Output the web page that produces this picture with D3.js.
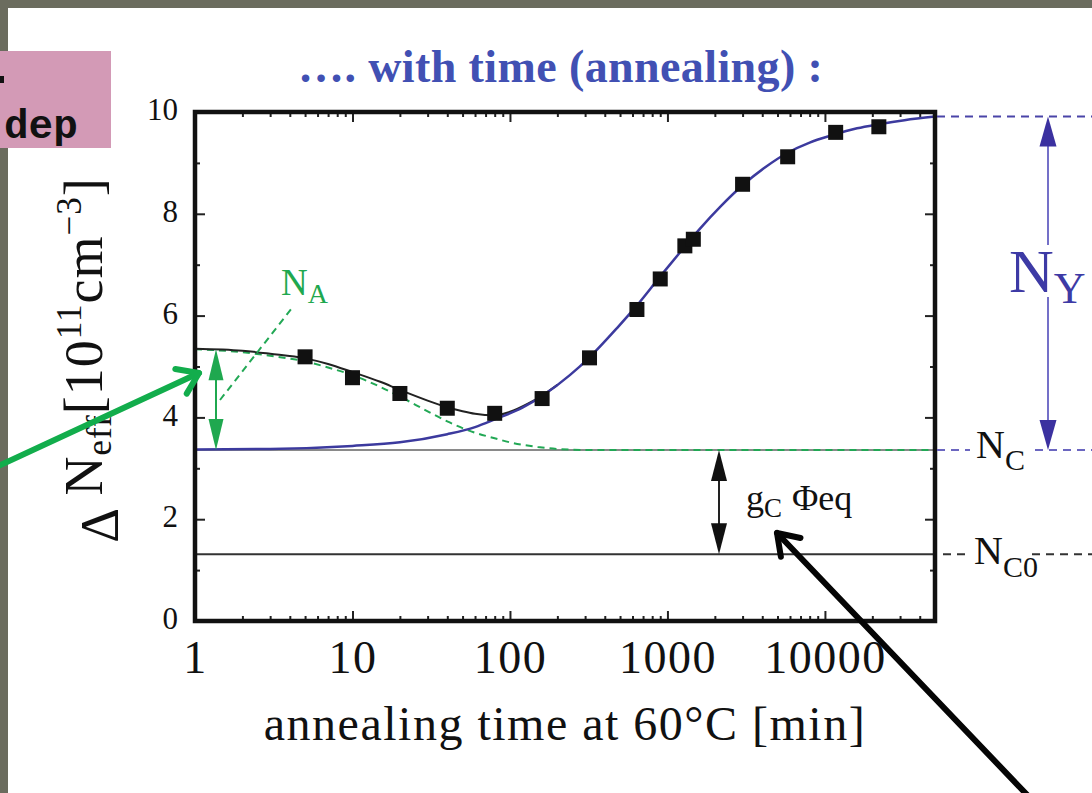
<!DOCTYPE html>
<html>
<head>
<meta charset="utf-8">
<script src="https://cdn.jsdelivr.net/npm/d3@7"></script>
<style>
  body { margin: 0; background: #fff; }
  svg { display: block; }
  .tick line { stroke: #222; stroke-width: 2; }
  .tick text { font-family: "Liberation Serif", "Times New Roman", serif; fill: #111; }
</style>
</head>
<body>
<div id="chart"></div>
<script>
// measured data points (annealing time in min, delta Neff in 1e11 cm^-3)
const pointTimes = [5, 10, 20, 40, 80, 160, 320, 640, 900, 1290, 1460, 3000, 5800, 11700, 22000]
const pointValues = [5.19, 4.78, 4.47, 4.18, 4.08, 4.37, 5.17, 6.12, 6.72, 7.37, 7.50, 8.58, 9.12, 9.60, 9.71]

// fitted curves
const blueTimes = [1, 3, 10, 20, 40, 60, 80, 120, 160, 240, 320, 480, 640, 900, 1200, 1600, 2200, 3000, 4200, 5800, 8000, 11000, 16000, 22000, 32000, 50000]
const blueValues = [3.37, 3.38, 3.44, 3.51, 3.67, 3.81, 3.96, 4.19, 4.42, 4.83, 5.18, 5.76, 6.2, 6.77, 7.24, 7.7, 8.16, 8.56, 8.92, 9.2, 9.4, 9.54, 9.68, 9.76, 9.84, 9.91]

const greenTimes = [1, 2, 3, 5, 7, 10, 15, 20, 30, 40, 60, 80, 100, 150, 200, 300, 50000]
const greenValues = [5.34, 5.28, 5.21, 5.10, 4.98, 4.83, 4.60, 4.41, 4.12, 3.92, 3.70, 3.59, 3.51, 3.42, 3.38, 3.36, 3.36]

const blackTimes = [1, 2, 3, 5, 7, 10, 15, 20, 30, 40, 50, 60, 80, 100, 130, 160, 200]
const blackValues = [5.35, 5.31, 5.25, 5.16, 5.05, 4.89, 4.70, 4.54, 4.33, 4.20, 4.12, 4.07, 4.04, 4.11, 4.27, 4.43, 4.64]

const nC = 3.36
const nC0 = 1.31
const nYTop = 9.91
const nAStart = 5.34

const xMajor = [1, 10, 100, 1000, 10000]
const yMajor = [0, 2, 4, 6, 8, 10]
const yMinor = [1, 3, 5, 7, 9]

const W = 1092, H = 793
const serif = '"Liberation Serif", "Times New Roman", serif'

var svg = d3.select("#chart").append("svg")
    .attr("width", W)
    .attr("height", H)

var x = d3.scaleLog().domain([1, 50000]).range([195, 935])
var y = d3.scaleLinear().domain([0, 10]).range([621, 112])

var xMinor = []
for (var p = 0; p < 5; p++) {
  for (var m = 2; m <= 9; m++) {
    var v = m * Math.pow(10, p)
    if (v < 50000) xMinor.push(v)
  }
}

// background frame of the slide
svg.append("rect").attr("x", 0).attr("y", 0).attr("width", W).attr("height", 8).attr("fill", "#6b6c5e")
svg.append("rect").attr("x", 0).attr("y", 0).attr("width", 8).attr("height", H).attr("fill", "#6b6c5e")
svg.append("rect").attr("x", 0).attr("y", 51).attr("width", 111).attr("height", 97).attr("fill", "#d39ab6")
svg.append("rect").attr("x", 0).attr("y", 76).attr("width", 4).attr("height", 7).attr("fill", "#111")
svg.append("text")
    .attr("x", 4).attr("y", 138)
    .attr("font-family", '"Courier New", "Liberation Mono", monospace')
    .attr("font-size", "41px")
    .attr("font-weight", "bold")
    .attr("fill", "#111")
    .text("dep")

// title
svg.append("text")
    .attr("x", 298).attr("y", 82)
    .attr("font-family", serif)
    .attr("font-size", "46px")
    .attr("font-weight", "bold")
    .attr("letter-spacing", "0.4px")
    .attr("fill", "#4150b3")
    .text("…. with time (annealing) :")

// axes (ticks point inward)
function noDomain(g) { g.select(".domain").remove() }

svg.append("g").attr("transform", "translate(0,621)")
    .call(d3.axisBottom(x).tickValues(xMajor).tickSize(-10).tickPadding(19).tickFormat(d3.format("d")))
    .call(noDomain)
    .selectAll("text").attr("font-size", "46px").attr("letter-spacing", "1.5px")
svg.append("g").attr("transform", "translate(0,621)")
    .call(d3.axisBottom(x).tickValues(xMinor).tickSize(-5).tickFormat(""))
    .call(noDomain)
svg.append("g").attr("transform", "translate(0,112)")
    .call(d3.axisTop(x).tickValues(xMajor).tickSize(-10).tickFormat(""))
    .call(noDomain)
svg.append("g").attr("transform", "translate(0,112)")
    .call(d3.axisTop(x).tickValues(xMinor).tickSize(-5).tickFormat(""))
    .call(noDomain)

svg.append("g").attr("transform", "translate(195,0)")
    .call(d3.axisLeft(y).tickValues(yMajor).tickSize(-10).tickPadding(17))
    .call(noDomain)
    .selectAll("text").attr("font-size", "31px").attr("dy", "0.25em")
svg.append("g").attr("transform", "translate(195,0)")
    .call(d3.axisLeft(y).tickValues(yMinor).tickSize(-5).tickFormat(""))
    .call(noDomain)
svg.append("g").attr("transform", "translate(935,0)")
    .call(d3.axisRight(y).tickValues(yMajor).tickSize(-10).tickFormat(""))
    .call(noDomain)
svg.append("g").attr("transform", "translate(935,0)")
    .call(d3.axisRight(y).tickValues(yMinor).tickSize(-5).tickFormat(""))
    .call(noDomain)

// horizontal levels N_C and N_C0
svg.append("line")
    .attr("x1", x(1)).attr("x2", x(50000))
    .attr("y1", y(nC)).attr("y2", y(nC))
    .attr("stroke", "#8a8a8a").attr("stroke-width", 2)
svg.append("line")
    .attr("x1", x(1)).attr("x2", x(50000))
    .attr("y1", y(nC0)).attr("y2", y(nC0))
    .attr("stroke", "#333").attr("stroke-width", 2)

var line = d3.line()
    .x(d => x(d[0]))
    .y(d => y(d[1]))
    .curve(d3.curveMonotoneX)

svg.append("path")
    .attr("d", line(greenTimes.map((t, i) => [t, greenValues[i]])))
    .attr("fill", "none").attr("stroke", "#22a855").attr("stroke-width", 2)
    .attr("stroke-dasharray", "7,5")

svg.append("path")
    .attr("d", line(blackTimes.map((t, i) => [t, blackValues[i]])))
    .attr("fill", "none").attr("stroke", "#222").attr("stroke-width", 2)

svg.append("path")
    .attr("d", line(blueTimes.map((t, i) => [t, blueValues[i]])))
    .attr("fill", "none").attr("stroke", "#3c3a9e").attr("stroke-width", 2.5)

svg.append("g").selectAll("rect")
  .data(pointTimes.map((t, i) => ({t: t, v: pointValues[i]})))
  .enter().append("rect")
    .attr("x", d => x(d.t) - 7.5)
    .attr("y", d => y(d.v) - 7.5)
    .attr("width", 15).attr("height", 15)
    .attr("fill", "#111")

// plot frame
svg.append("rect")
    .attr("x", x(1)).attr("y", y(10))
    .attr("width", x(50000) - x(1)).attr("height", y(0) - y(10))
    .attr("fill", "none").attr("stroke", "#111").attr("stroke-width", 4.5)

// arrow helpers
function headDown(g, cx, tipY, len, w, color) {
  g.append("path").attr("d", `M${cx},${tipY}L${cx - w / 2},${tipY - len}L${cx + w / 2},${tipY - len}Z`).attr("fill", color)
}
function headUp(g, cx, tipY, len, w, color) {
  g.append("path").attr("d", `M${cx},${tipY}L${cx - w / 2},${tipY + len}L${cx + w / 2},${tipY + len}Z`).attr("fill", color)
}
function doubleArrow(cx, yTop, yBot, color, lineColor, len, w) {
  var g = svg.append("g")
  g.append("line").attr("x1", cx).attr("x2", cx).attr("y1", yTop + 5).attr("y2", yBot - 5)
      .attr("stroke", lineColor).attr("stroke-width", 2)
  headUp(g, cx, yTop, len, w, color)
  headDown(g, cx, yBot, len, w, color)
  return g
}

// N_A amplitude
doubleArrow(216, y(nAStart), y(nC), "#1fa84f", "#1fa84f", 31, 15)
svg.append("line")
    .attr("x1", 220).attr("y1", 400).attr("x2", 292).attr("y2", 308)
    .attr("stroke", "#22a855").attr("stroke-width", 2).attr("stroke-dasharray", "7,5")
var na = svg.append("text").attr("x", 281).attr("y", 295)
    .attr("font-family", serif).attr("font-size", "37px").attr("fill", "#1fa84f")
na.append("tspan").text("N")
na.append("tspan").attr("font-size", "28px").attr("dy", 8).text("A")

// g_C Phi_eq
doubleArrow(719, y(nC), y(nC0), "#111", "#222", 31, 16)
var gc = svg.append("text").attr("x", 746).attr("y", 510)
    .attr("font-family", serif).attr("font-size", "36px").attr("fill", "#111")
gc.append("tspan").text("g")
gc.append("tspan").attr("font-size", "27px").attr("dy", 7).text("C")
gc.append("tspan").attr("dx", 10).attr("dy", -7).text("Φeq")

// right hand labels
svg.append("line")
    .attr("x1", 937).attr("x2", W).attr("y1", y(nYTop)).attr("y2", y(nYTop))
    .attr("stroke", "#4a44a8").attr("stroke-width", 2).attr("stroke-dasharray", "8,6")
var rc = [[937, 970], [1035, W]]
rc.forEach(s => svg.append("line")
    .attr("x1", s[0]).attr("x2", s[1]).attr("y1", y(nC)).attr("y2", y(nC))
    .attr("stroke", "#6b66c0").attr("stroke-width", 2).attr("stroke-dasharray", "8,6"))
var rc0 = [[943, 968], [1032, W]]
rc0.forEach(s => svg.append("line")
    .attr("x1", s[0]).attr("x2", s[1]).attr("y1", y(nC0)).attr("y2", y(nC0))
    .attr("stroke", "#333").attr("stroke-width", 2).attr("stroke-dasharray", "8,6"))

var ny = svg.append("g")
ny.append("line").attr("x1", 1048).attr("x2", 1048).attr("y1", y(nYTop) + 10).attr("y2", 245)
    .attr("stroke", "#7470c8").attr("stroke-width", 2)
ny.append("line").attr("x1", 1048).attr("x2", 1048).attr("y1", 297).attr("y2", y(nC) - 10)
    .attr("stroke", "#7470c8").attr("stroke-width", 2)
headUp(ny, 1048, y(nYTop), 30, 17, "#3b31a0")
headDown(ny, 1048, y(nC), 30, 17, "#3b31a0")

var nyt = svg.append("text").attr("x", 1009).attr("y", 292)
    .attr("font-family", serif).attr("font-size", "62px").attr("fill", "#3d3aa5")
nyt.append("tspan").text("N")
nyt.append("tspan").attr("font-size", "44px").attr("dy", 11).text("Y")

var nct = svg.append("text").attr("x", 976).attr("y", 458)
    .attr("font-family", serif).attr("font-size", "40px").attr("fill", "#111")
nct.append("tspan").text("N")
nct.append("tspan").attr("font-size", "30px").attr("dy", 12).text("C")

var nc0t = svg.append("text").attr("x", 974).attr("y", 564)
    .attr("font-family", serif).attr("font-size", "40px").attr("fill", "#111")
nc0t.append("tspan").text("N")
nc0t.append("tspan").attr("font-size", "30px").attr("dy", 13).text("C0")

// axis titles
svg.append("text")
    .attr("x", 565).attr("y", 740)
    .attr("text-anchor", "middle")
    .attr("font-family", serif).attr("font-size", "48px").attr("fill", "#111")
    .attr("letter-spacing", "1.5px")
    .text("annealing time at 60°C [min]")

var yt = svg.append("text")
    .attr("transform", "translate(102,360) rotate(-90)")
    .attr("text-anchor", "middle")
    .attr("font-family", serif).attr("font-size", "54px").attr("fill", "#111")
    .attr("letter-spacing", "1px")
yt.append("tspan").attr("dy", 16).text("Δ")
yt.append("tspan").attr("dy", -16).text(" N")
yt.append("tspan").attr("font-size", "35px").attr("dy", 9).text("eff")
yt.append("tspan").attr("dy", -9).text("[10")
yt.append("tspan").attr("font-size", "35px").attr("dy", -21).text("11")
yt.append("tspan").attr("dy", 21).text("cm")
yt.append("tspan").attr("font-size", "35px").attr("dy", -21).text("−3")
yt.append("tspan").attr("dy", 21).text("]")

// pointer arrows drawn over everything
function bigArrow(x1, y1, x2, y2, color) {
  var a = Math.atan2(y2 - y1, x2 - x1)
  var L = 24, spread = 0.6
  var g = svg.append("g").attr("stroke", color).attr("stroke-width", 6).attr("stroke-linecap", "round").attr("fill", "none")
  g.append("line").attr("x1", x1).attr("y1", y1).attr("x2", x2).attr("y2", y2)
  g.append("path").attr("d", `M${x2 - L * Math.cos(a - spread)},${y2 - L * Math.sin(a - spread)}L${x2},${y2}L${x2 - L * Math.cos(a + spread)},${y2 - L * Math.sin(a + spread)}`)
      .attr("stroke-linejoin", "round")
}
bigArrow(-6, 468, 199, 373, "#12ad4c")
bigArrow(1032, 800, 777, 533, "#050505")
</script>
</body>
</html>
